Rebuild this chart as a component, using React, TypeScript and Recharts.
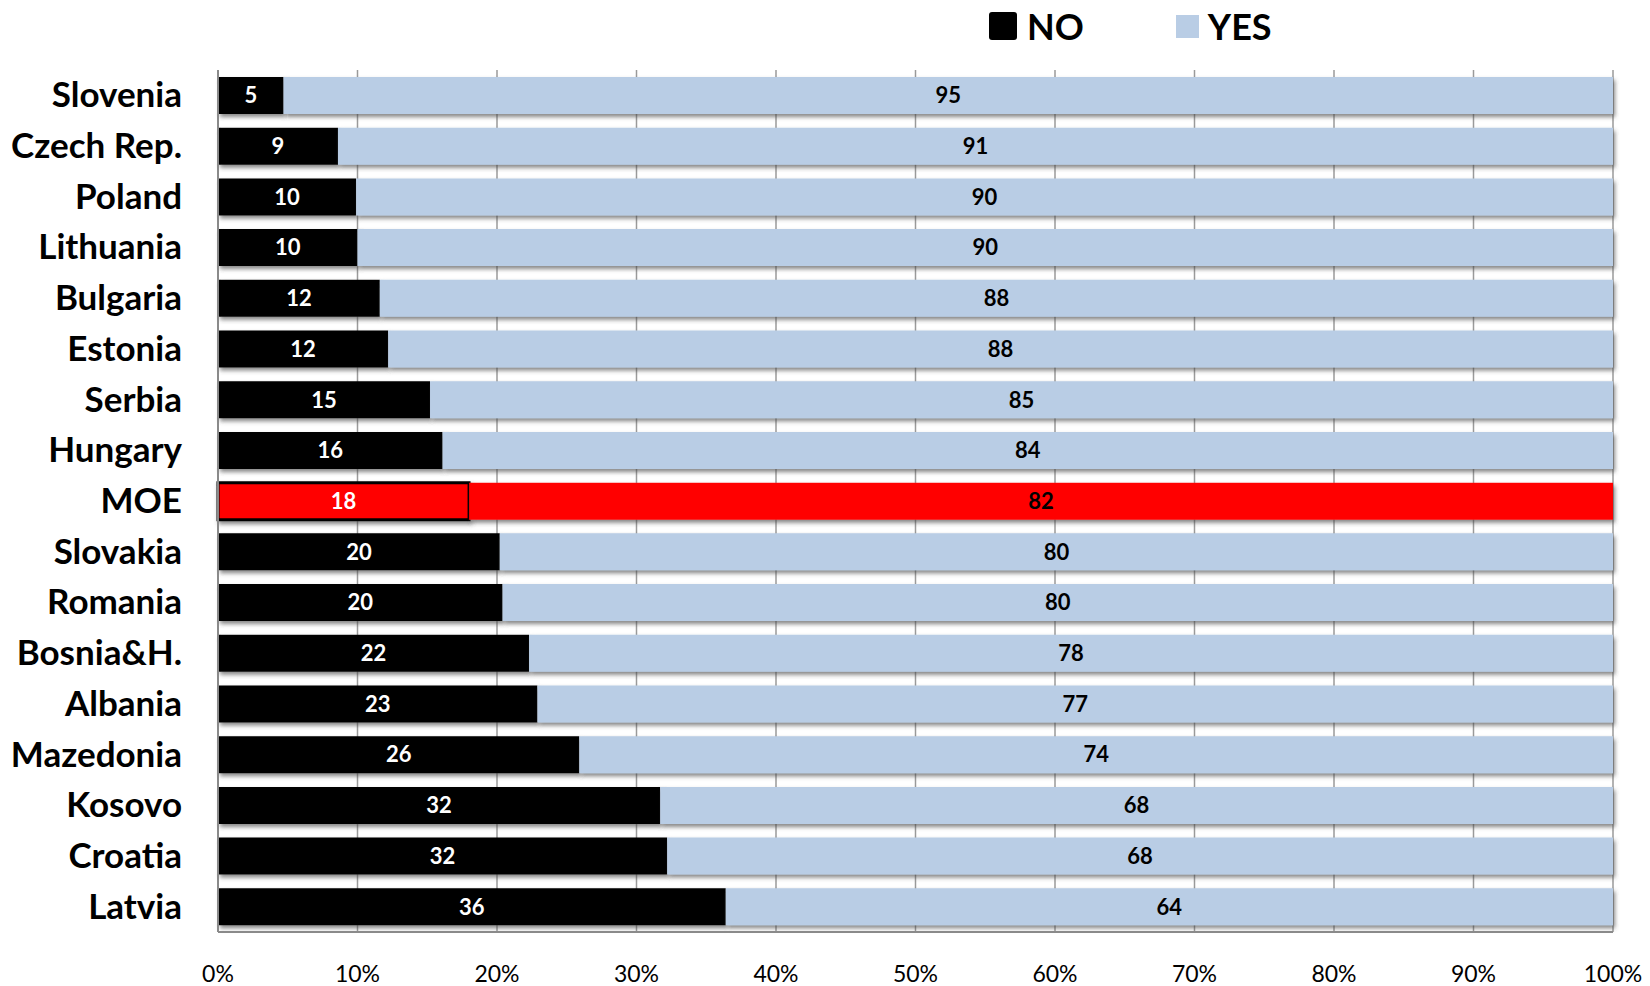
import { Bar, BarChart, CartesianGrid, Cell, LabelList, XAxis, YAxis } from "recharts";

const countries = [
  "Slovenia", "Czech Rep.", "Poland", "Lithuania", "Bulgaria", "Estonia", "Serbia", "Hungary", "MOE",
  "Slovakia", "Romania", "Bosnia&H.", "Albania", "Mazedonia", "Kosovo", "Croatia", "Latvia",
];
const noShare = [4.7, 8.6, 9.9, 10.0, 11.6, 12.2, 15.2, 16.1, 18.0, 20.2, 20.4, 22.3, 22.9, 25.9, 31.7, 32.2, 36.4];
const yesShare = [95.3, 91.4, 90.1, 90.0, 88.4, 87.8, 84.8, 83.9, 82.0, 79.8, 79.6, 77.7, 77.1, 74.1, 68.3, 67.8, 63.6];
const xTicks = [0, 10, 20, 30, 40, 50, 60, 70, 80, 90, 100];
const highlight = "MOE";

const FONT = "Lato, 'Noto Sans', sans-serif";
const NO_COLOR = "#000000";
const YES_COLOR = "#b9cde5";
const RED = "#ff0000";

const data = countries.map((name, i) => ({ name, no: noShare[i], yes: yesShare[i] }));

const CountryTick = ({ x, y, payload }: any) => (
  <text x={x - 28} y={y} dy={12} textAnchor="end" fontFamily={FONT} fontWeight={700} fontSize={35} fill="#000">
    {payload.value}
  </text>
);

const round = (v: any) => Math.round(Number(v));

export default function App() {
  return (
    <div style={{ position: "absolute", left: 0, top: 0, width: 1650, height: 986, background: "#fff" }}>
      <div
        style={{
          position: "absolute",
          top: 4,
          left: 989,
          display: "flex",
          alignItems: "center",
          fontFamily: FONT,
          fontWeight: 700,
          fontSize: 36,
          color: "#000",
        }}
      >
        <span style={{ width: 28, height: 28, background: NO_COLOR, borderRadius: 3, marginRight: 10 }} />
        <span>NO</span>
        <span style={{ width: 23, height: 23, background: YES_COLOR, marginLeft: 92, marginRight: 9 }} />
        <span>YES</span>
      </div>
      <BarChart
        width={1650}
        height={986}
        data={data}
        layout="vertical"
        margin={{ top: 70, right: 37, bottom: 0, left: 0 }}
        barSize={37}
      >
        <defs>
          <filter id="barShadow" x="-5%" y="-30%" width="110%" height="180%">
            <feDropShadow dx="2" dy="3" stdDeviation="2" floodColor="#444" floodOpacity="0.65" />
          </filter>
        </defs>
        <CartesianGrid horizontal={false} stroke="#9a9a9a" strokeWidth={1.5} />
        <XAxis
          type="number"
          domain={[0, 100]}
          ticks={xTicks}
          tickFormatter={(v) => `${v}%`}
          axisLine={{ stroke: "#8a8a8a", strokeWidth: 2 }}
          tickLine={false}
          tickMargin={28}
          height={54}
          tick={{ fontFamily: FONT, fontSize: 23, fill: "#000" }}
        />
        <YAxis
          type="category"
          dataKey="name"
          width={218}
          axisLine={{ stroke: "#8a8a8a", strokeWidth: 2 }}
          tickLine={false}
          tick={<CountryTick />}
        />
        <Bar dataKey="no" stackId="a" fill={NO_COLOR} isAnimationActive={false} filter="url(#barShadow)">
          {data.map((d) => (
            <Cell
              key={`no-${d.name}`}
              fill={d.name === highlight ? RED : NO_COLOR}
              stroke={d.name === highlight ? "#000" : "none"}
              strokeWidth={d.name === highlight ? 3 : 0}
            />
          ))}
          <LabelList
            dataKey="no"
            position="center"
            formatter={round}
            fill="#fff"
            fontFamily={FONT}
            fontWeight={700}
            fontSize={22}
          />
        </Bar>
        <Bar dataKey="yes" stackId="a" fill={YES_COLOR} isAnimationActive={false} filter="url(#barShadow)">
          {data.map((d) => (
            <Cell key={`yes-${d.name}`} fill={d.name === highlight ? RED : YES_COLOR} />
          ))}
          <LabelList
            dataKey="yes"
            position="center"
            formatter={round}
            fill="#000"
            fontFamily={FONT}
            fontWeight={700}
            fontSize={22}
          />
        </Bar>
      </BarChart>
    </div>
  );
}
